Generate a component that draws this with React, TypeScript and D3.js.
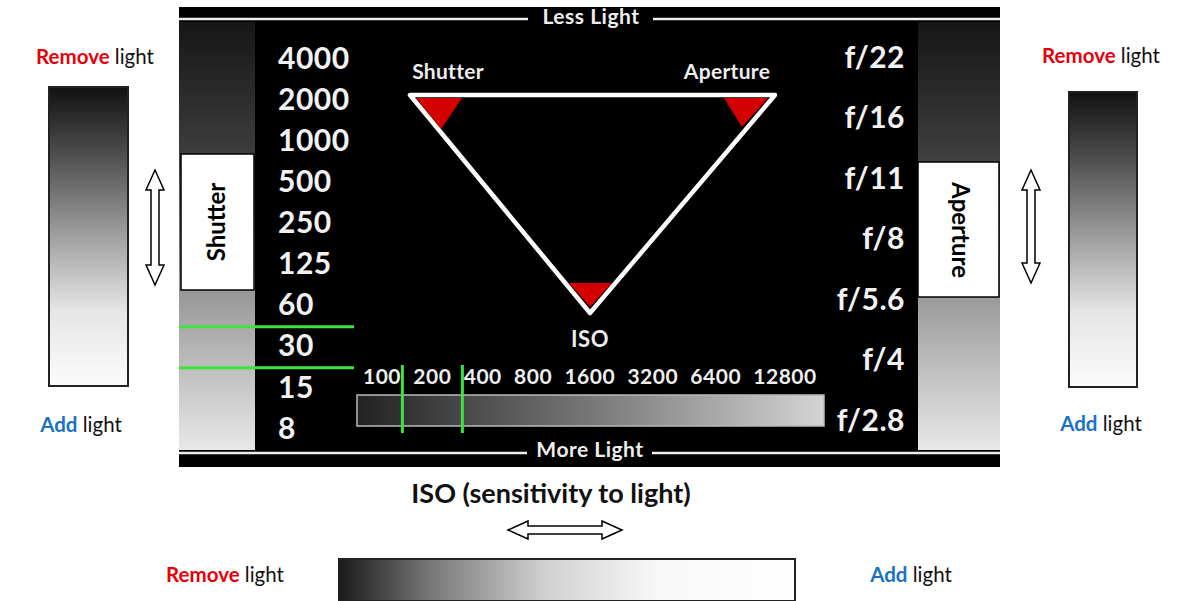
import React from "react";
import * as d3 from "d3";

const shutterSpeeds = ["4000", "2000", "1000", "500", "250", "125", "60", "30", "15", "8"];
const apertures = ["f/22", "f/16", "f/11", "f/8", "f/5.6", "f/4", "f/2.8"];
const isoValues = ["100", "200", "400", "800", "1600", "3200", "6400", "12800"];
const selectedShutter = "30";
const selectedIso = "200";

const W = 1179;
const H = 601;
const panelFont = "Lato, 'Open Sans', sans-serif";
const sideFont = "Lato, 'Open Sans', sans-serif";

// vertical double-headed outline arrow
const vArrow = (cx: number, y0: number, y1: number) => {
  const sw = 4, hw = 9, hl = 20;
  return `M${cx},${y0} L${cx + hw},${y0 + hl} L${cx + sw},${y0 + hl} L${cx + sw},${y1 - hl} L${cx + hw},${y1 - hl} L${cx},${y1} L${cx - hw},${y1 - hl} L${cx - sw},${y1 - hl} L${cx - sw},${y0 + hl} L${cx - hw},${y0 + hl} Z`;
};
const hArrow = (cy: number, x0: number, x1: number) => {
  const sw = 4, hw = 9, hl = 20;
  return `M${x0},${cy} L${x0 + hl},${cy - hw} L${x0 + hl},${cy - sw} L${x1 - hl},${cy - sw} L${x1 - hl},${cy - hw} L${x1},${cy} L${x1 - hl},${cy + hw} L${x1 - hl},${cy + sw} L${x0 + hl},${cy + sw} L${x0 + hl},${cy + hw} Z`;
};

const LightLabel = ({ x, y, word, color, anchor = "start" }: any) => (
  <text x={x} y={y} fontFamily={sideFont} fontSize={20.5} textAnchor={anchor} dominantBaseline="middle">
    <tspan fill={color} fontWeight={700}>{word}</tspan>
    <tspan fill="#111"> light</tspan>
  </text>
);

const App = () => {
  const shutterY = d3.scalePoint<string>().domain(shutterSpeeds).range([61, 431]);
  const apertureY = d3.scalePoint<string>().domain(apertures).range([60, 423]);

  // ISO labels are laid out like a spaced string: centre of each label in character units
  let pos = 0;
  const isoCenters = isoValues.map((v) => {
    const c = pos + v.length / 2;
    pos += v.length + 1;
    return c;
  });
  const isoX = d3.scaleLinear().domain([isoCenters[0], isoCenters[isoCenters.length - 1]]).range([382, 785]);
  const isoSel = isoX(isoCenters[isoValues.indexOf(selectedIso)]);
  const shutterStep = shutterY.step();
  const shutterSel = shutterY(selectedShutter) as number;

  const line = d3.line();
  const tri = (pts: [number, number][]) => line(pts) + "Z";

  return (
    <svg width={W} height={H} style={{ position: "absolute", left: 0, top: 0, background: "#fff" }}>
      <defs>
        <linearGradient id="vbar" x1="0" y1="0" x2="0" y2="1">
          <stop offset="0" stopColor="#111" />
          <stop offset="0.25" stopColor="#555" />
          <stop offset="0.5" stopColor="#a0a0a0" />
          <stop offset="0.75" stopColor="#e6e6e6" />
          <stop offset="1" stopColor="#fbfbfb" />
        </linearGradient>
        <linearGradient id="hbar" x1="0" y1="0" x2="1" y2="0">
          <stop offset="0" stopColor="#1a1a1a" />
          <stop offset="0.2" stopColor="#777" />
          <stop offset="0.45" stopColor="#d0d0d0" />
          <stop offset="0.7" stopColor="#f8f8f8" />
          <stop offset="1" stopColor="#fff" />
        </linearGradient>
        <linearGradient id="strip" x1="0" y1="0" x2="0" y2="1">
          <stop offset="0" stopColor="#161616" />
          <stop offset="0.3" stopColor="#3c3c3c" />
          <stop offset="0.62" stopColor="#959595" />
          <stop offset="1" stopColor="#e8e8e8" />
        </linearGradient>
        <linearGradient id="isobar" x1="0" y1="0" x2="1" y2="0">
          <stop offset="0" stopColor="#222" />
          <stop offset="0.5" stopColor="#777" />
          <stop offset="1" stopColor="#d4d4d4" />
        </linearGradient>
      </defs>

      {/* black panel */}
      <rect x={179} y={7} width={821} height={460} fill="#000" />
      <rect x={179} y={22} width={76} height={428} fill="url(#strip)" />
      <rect x={918} y={22} width={82} height={428} fill="url(#strip)" />
      <rect x={181} y={154} width={73} height={136} fill="#fff" stroke="#000" strokeWidth={1.5} />
      <rect x={918} y={162} width={81} height={135} fill="#fff" stroke="#000" strokeWidth={1.5} />
      <text transform="translate(219,222) rotate(-90)" textAnchor="middle" dominantBaseline="middle"
        fontFamily={sideFont} fontWeight={700} fontSize={24} fill="#000">Shutter</text>
      <text transform="translate(958,230) rotate(90)" textAnchor="middle" dominantBaseline="middle"
        fontFamily={sideFont} fontWeight={700} fontSize={24} fill="#000">Aperture</text>

      {/* less / more light rules */}
      <line x1={179} x2={528} y1={19} y2={19} stroke="#eee" strokeWidth={2.5} />
      <line x1={653} x2={1000} y1={19} y2={19} stroke="#eee" strokeWidth={2.5} />
      <text x={591} y={19} textAnchor="middle" dominantBaseline="middle" fontFamily={panelFont}
        fontWeight={700} fontSize={21} letterSpacing={0.5} fill="#eee">Less Light</text>
      <line x1={179} x2={527} y1={453} y2={453} stroke="#eee" strokeWidth={2.5} />
      <line x1={652} x2={1000} y1={453} y2={453} stroke="#eee" strokeWidth={2.5} />
      <text x={590} y={452} textAnchor="middle" dominantBaseline="middle" fontFamily={panelFont}
        fontWeight={700} fontSize={21} letterSpacing={0.5} fill="#eee">More Light</text>

      {/* shutter speeds */}
      {shutterSpeeds.map((s) => (
        <text key={s} x={278} y={shutterY(s)} dominantBaseline="middle" fontFamily={panelFont}
          fontWeight={700} fontSize={30} letterSpacing={0.5} fill="#f2f2f2">{s}</text>
      ))}
      {[shutterSel - shutterStep / 2, shutterSel + shutterStep / 2].map((y, i) => (
        <line key={i} x1={179} x2={354} y1={y - 1.5} y2={y - 1.5} stroke="#3fe23f" strokeWidth={3} />
      ))}

      {/* apertures */}
      {apertures.map((a) => (
        <text key={a} x={905} y={apertureY(a)} textAnchor="end" dominantBaseline="middle" fontFamily={panelFont}
          fontWeight={700} fontSize={30} letterSpacing={0.5} fill="#f2f2f2">{a}</text>
      ))}

      {/* exposure triangle */}
      <path d={tri([[410, 95], [775, 95], [590, 313]])} fill="none" stroke="#fff" strokeWidth={4.5} strokeLinejoin="round" />
      <path d={tri([[416, 98], [462, 98], [441, 129]])} fill="#d40000" />
      <path d={tri([[724, 98], [768, 98], [742, 127]])} fill="#d40000" />
      <path d={tri([[569, 283], [612, 283], [590, 307]])} fill="#d40000" />
      <text x={448} y={74} textAnchor="middle" dominantBaseline="middle" fontFamily={panelFont}
        fontWeight={700} fontSize={21} letterSpacing={0.3} fill="#eee">Shutter</text>
      <text x={727} y={74} textAnchor="middle" dominantBaseline="middle" fontFamily={panelFont}
        fontWeight={700} fontSize={21} letterSpacing={0.3} fill="#eee">Aperture</text>
      <text x={590} y={341} textAnchor="middle" dominantBaseline="middle" fontFamily={panelFont}
        fontWeight={700} fontSize={22} letterSpacing={0.5} fill="#eee">ISO</text>

      {/* ISO scale */}
      {isoValues.map((v, i) => (
        <text key={v} x={isoX(isoCenters[i])} y={379} textAnchor="middle" dominantBaseline="middle"
          fontFamily={panelFont} fontWeight={700} fontSize={21} letterSpacing={0.5} fill="#eee">{v}</text>
      ))}
      <rect x={357} y={395} width={467} height={31} fill="url(#isobar)" stroke="#bbb" strokeWidth={1.5} />
      {[isoSel - 30, isoSel + 30].map((x, i) => (
        <line key={i} x1={x} x2={x} y1={365} y2={433} stroke="#3fe23f" strokeWidth={3} />
      ))}

      {/* left side: shutter */}
      <LightLabel x={95} y={59} word="Remove" color="#e8000b" anchor="middle" />
      <rect x={49} y={87} width={79} height={299} fill="url(#vbar)" stroke="#222" strokeWidth={2} />
      <path d={vArrow(155, 170, 285)} fill="#fff" stroke="#000" strokeWidth={1.5} />
      <LightLabel x={81} y={427} word="Add" color="#1a72c4" anchor="middle" />

      {/* right side: aperture */}
      <LightLabel x={1101} y={58} word="Remove" color="#e8000b" anchor="middle" />
      <rect x={1069} y={92} width={68} height={295} fill="url(#vbar)" stroke="#222" strokeWidth={2} />
      <path d={vArrow(1031, 170, 283)} fill="#fff" stroke="#000" strokeWidth={1.5} />
      <LightLabel x={1101} y={426} word="Add" color="#1a72c4" anchor="middle" />

      {/* bottom: ISO */}
      <text x={551} y={496} textAnchor="middle" dominantBaseline="middle" fontFamily={sideFont}
        fontWeight={700} fontSize={27} fill="#111">ISO (sensitivity to light)</text>
      <path d={hArrow(530, 508, 622)} fill="#fff" stroke="#000" strokeWidth={1.5} />
      <LightLabel x={225} y={577} word="Remove" color="#e8000b" anchor="middle" />
      <rect x={339} y={559} width={456} height={42} fill="url(#hbar)" stroke="#222" strokeWidth={2} />
      <LightLabel x={911} y={577} word="Add" color="#1a72c4" anchor="middle" />
    </svg>
  );
};

export default App;
